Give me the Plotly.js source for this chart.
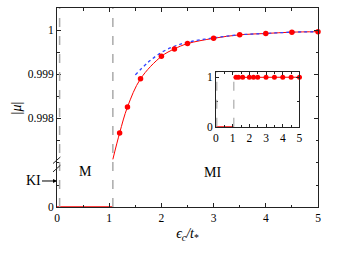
<!DOCTYPE html>
<html>
<head>
<meta charset="utf-8">
<script src="https://cdn.plot.ly/plotly-3.0.1.min.js"></script>
<style>html,body{margin:0;padding:0;background:#fff;}#chart{width:342px;height:259px;}</style>
</head>
<body>
<div id="chart"></div>
<script>
// Data
const muX = [1.2, 1.35, 1.6, 2.0, 2.25, 2.5, 3.0, 3.5, 4.0, 4.5, 5.0];
const muY = [0.99767, 0.99826, 0.99890, 0.99941, 0.99958, 0.99970, 0.99982, 0.99990, 0.99993, 0.99996, 0.99997];
const onsetX = 1.07;          // metal-insulator transition
const onsetY = 0.99707;       // |mu| at the onset (curve start)
const kiX = 0.05;             // KI boundary
const metalX = [0, 1.07];
const metalY = [0, 0];
const asymX = [1.5, 1.75, 2.0, 2.25, 2.5, 3.0, 3.5, 4.0, 4.5, 5.0];
const asymY = [0.99899, 0.99928, 0.99950, 0.99964, 0.99973, 0.99983, 0.99990, 0.99993, 0.99996, 0.99997];
const xTicks = [0, 1, 2, 3, 4, 5];
const upperTicks = [0.998, 0.999, 1];
const upperTickText = ['0.998', '0.999', '1'];
const insetYTicks = [0, 1];
const phaseLabels = ['KI', 'M', 'MI'];

const curveX = [onsetX].concat(muX);
const curveY = [onsetY].concat(muY);

const RED = '#ff0000';
const FONT = 'Liberation Serif, Times New Roman, serif';
const AX = '#222';

const traces = [
  {x: metalX, y: metalY, xaxis: 'x', yaxis: 'y', mode: 'lines',
   line: {color: RED, width: 1.5}},
  {x: curveX, y: curveY, xaxis: 'x2', yaxis: 'y2', mode: 'lines',
   line: {color: RED, width: 1, shape: 'spline'}},
  {x: asymX, y: asymY, xaxis: 'x2', yaxis: 'y2', mode: 'lines',
   line: {color: '#3344ff', width: 1.3, dash: 'dot', shape: 'spline'}},
  {x: muX, y: muY, xaxis: 'x2', yaxis: 'y2', mode: 'markers',
   marker: {color: RED, size: 5.5, symbol: 'circle'}, cliponaxis: false},
  {x: metalX, y: metalY, xaxis: 'x3', yaxis: 'y3', mode: 'lines',
   line: {color: RED, width: 1.5}},
  {x: curveX, y: curveY, xaxis: 'x3', yaxis: 'y3', mode: 'lines',
   line: {color: RED, width: 1}},
  {x: muX, y: muY, xaxis: 'x3', yaxis: 'y3', mode: 'markers',
   marker: {color: RED, size: 5, symbol: 'circle'}, cliponaxis: false}
];

const tickFont = {family: FONT, size: 11.5, color: '#000'};
const baseAxis = {
  showgrid: false, zeroline: false, showline: true, linecolor: AX, linewidth: 1,
  ticks: 'inside', ticklen: 4, tickcolor: AX, tickwidth: 1, tickfont: tickFont
};

const layout = {
  width: 342, height: 259,
  margin: {l: 57, r: 24, t: 8, b: 52},
  paper_bgcolor: '#fff', plot_bgcolor: '#fff',
  showlegend: false,
  font: {family: FONT, color: '#000'},
  xaxis: Object.assign({}, baseAxis, {
    domain: [0, 1], anchor: 'y', range: [0, 5],
    tickvals: xTicks, ticktext: xTicks.map(String),
    minor: {dtick: 0.5, tick0: 0, ticks: 'inside', ticklen: 2.5, tickcolor: AX},
    title: {text: '<i>ϵ</i><sub><i>c</i></sub><i>/t</i><sub>*</sub>', font: {family: FONT, size: 14}, standoff: 5}
  }),
  xaxis2: Object.assign({}, baseAxis, {
    domain: [0, 1], anchor: 'y2', side: 'top', range: [0, 5],
    tickvals: xTicks, showticklabels: false,
    minor: {dtick: 0.5, tick0: 0, ticks: 'inside', ticklen: 2.5, tickcolor: AX}
  }),
  yaxis: Object.assign({}, baseAxis, {
    domain: [0, 0.216], anchor: 'x', range: [0, 0.000977],
    tickvals: [0], ticktext: ['0'], mirror: 'ticks',
    minor: {dtick: 0.0005, tick0: 0, ticks: 'inside', ticklen: 2.5, tickcolor: AX}
  }),
  yaxis2: Object.assign({}, baseAxis, {
    domain: [0.216, 1], anchor: 'x2', range: [0.996964, 1.000509],
    tickvals: upperTicks, ticktext: upperTickText, mirror: 'ticks',
    minor: {dtick: 0.0005, tick0: 0.9975, ticks: 'inside', ticklen: 2.5, tickcolor: AX}
  }),
  xaxis3: Object.assign({}, baseAxis, {
    domain: [0.609, 0.929], anchor: 'y3', range: [0, 5],
    tickvals: xTicks, ticktext: xTicks.map(String), mirror: 'ticks', ticklen: 3,
    minor: {dtick: 0.5, tick0: 0, ticks: 'inside', ticklen: 2, tickcolor: AX}
  }),
  yaxis3: Object.assign({}, baseAxis, {
    domain: [0.4035, 0.677], anchor: 'x3', range: [0, 1.1],
    tickvals: insetYTicks, ticktext: insetYTicks.map(String), mirror: 'ticks', ticklen: 3,
    minor: {dtick: 0.5, tick0: 0, ticks: 'inside', ticklen: 2, tickcolor: AX}
  }),
  shapes: [
    {type: 'line', xref: 'x', yref: 'paper', x0: kiX, x1: kiX, y0: 0, y1: 1,
     line: {color: '#aaa', width: 1.5, dash: 'dash'}},
    {type: 'line', xref: 'x', yref: 'paper', x0: onsetX, x1: onsetX, y0: 0, y1: 1,
     line: {color: '#aaa', width: 1.5, dash: 'dash'}},
    {type: 'line', xref: 'x3', yref: 'y3 domain', x0: kiX, x1: kiX, y0: 0, y1: 1,
     line: {color: '#aaa', width: 1.2, dash: 'dash'}},
    {type: 'line', xref: 'x3', yref: 'y3 domain', x0: onsetX, x1: onsetX, y0: 0, y1: 1,
     line: {color: '#aaa', width: 1.2, dash: 'dash'}},
    {type: 'line', xref: 'paper', yref: 'paper', x0: -0.0153, y0: 0.2185, x1: 0.013, y1: 0.2513,
     line: {color: AX, width: 1}},
    {type: 'line', xref: 'paper', yref: 'paper', x0: -0.0153, y0: 0.1764, x1: 0.013, y1: 0.2095,
     line: {color: AX, width: 1}}
  ],
  annotations: [
    {text: '|<i>μ</i>|', xref: 'paper', yref: 'paper', x: -0.19, y: 0.5, textangle: -90,
     showarrow: false, font: {family: FONT, size: 14}},
    {text: phaseLabels[0], xref: 'x', yref: 'paper', x: 0, y: 0.1307, ax: -24, ay: 0,
     showarrow: true, arrowhead: 2, arrowsize: 0.8, arrowwidth: 1, arrowcolor: '#000',
     font: {family: FONT, size: 14}},
    {text: phaseLabels[1], xref: 'x', yref: 'paper', x: 0.55, y: 0.1307,
     showarrow: false, font: {family: FONT, size: 14}},
    {text: phaseLabels[2], xref: 'x', yref: 'paper', x: 2.97, y: 0.127,
     showarrow: false, font: {family: FONT, size: 14}}
  ]
};

Plotly.newPlot('chart', traces, layout, {displayModeBar: false, staticPlot: true});
</script>
</body>
</html>
